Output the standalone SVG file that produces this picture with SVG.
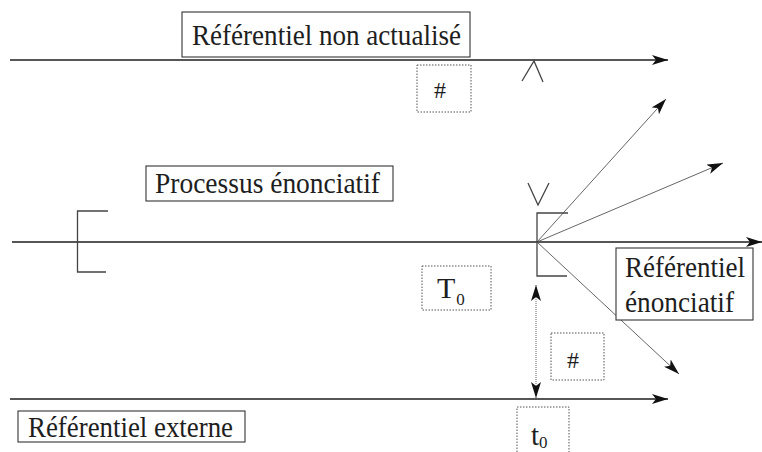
<svg xmlns="http://www.w3.org/2000/svg" width="762" height="452" viewBox="0 0 762 452">
<style>
  text { font-family: 'Liberation Serif', 'Times New Roman', serif; fill: #1e1e1e; }
  .lbl { font-size: 29px; }
  .sym { font-size: 24px; }
  .sub { font-size: 17px; }
  .box { fill: #ffffff; stroke: #333333; stroke-width: 1.1; }
  .dbox { fill: #ffffff; stroke: #555555; stroke-width: 1; stroke-dasharray: 1.5 1.5; }
  .axis { stroke: #1e1e1e; stroke-width: 1.6; fill: none; }
  .ray { stroke: #555555; stroke-width: 0.9; fill: none; }
  .mark { stroke: #444444; stroke-width: 1.3; fill: none; }
</style>
<defs>
  <marker id="ah" viewBox="0 0 16 10" markerWidth="16" markerHeight="10" refX="16" refY="5" orient="auto-start-reverse" markerUnits="userSpaceOnUse">
    <path d="M0,0 L16,5 L0,10 L4,5 Z" fill="#111111"/>
  </marker>
</defs>
<rect width="762" height="452" fill="#ffffff"/>

<g id="connectors">
  <line class="axis" x1="10" y1="60" x2="668" y2="60" marker-end="url(#ah)"/>
  <line class="axis" x1="12" y1="242" x2="762" y2="242" marker-end="url(#ah)"/>
  <line class="axis" x1="10" y1="399" x2="668" y2="399" marker-end="url(#ah)"/>
  <line class="ray" x1="537" y1="242" x2="666" y2="99" marker-end="url(#ah)"/>
  <line class="ray" x1="537" y1="242" x2="723" y2="163" marker-end="url(#ah)"/>
  <line class="ray" x1="537" y1="242" x2="679" y2="374" marker-end="url(#ah)"/>
  <line class="ray" x1="536" y1="285" x2="536" y2="398" stroke-dasharray="1 1" marker-start="url(#ah)" marker-end="url(#ah)"/>
</g>

<g id="marks">
  <path class="mark" d="M108,211 H77.5 V272 H106"/>
  <path class="mark" d="M568,213 H537 V276 H567"/>
  <path class="mark" d="M528,183 L538,205 L549,183"/>
  <path class="mark" d="M522,81 L534,61 L543,82"/>
</g>

<g id="ref-non-actualise">
  <rect class="box" x="182" y="12" width="288" height="45"/>
  <text class="lbl" x="192" y="45" textLength="269" lengthAdjust="spacingAndGlyphs">Référentiel non actualisé</text>
</g>

<g id="diese-haut">
  <rect class="dbox" x="417" y="65" width="54" height="47"/>
  <text class="sym" x="440" y="98" text-anchor="middle">#</text>
</g>

<g id="processus">
  <rect class="box" x="146" y="166" width="247" height="35"/>
  <text class="lbl" x="155" y="193" textLength="225" lengthAdjust="spacingAndGlyphs">Processus énonciatif</text>
</g>

<g id="ref-enonciatif">
  <rect class="box" x="616" y="248" width="137" height="72"/>
  <text class="lbl" x="625" y="277" textLength="120" lengthAdjust="spacingAndGlyphs">Référentiel</text>
  <text class="lbl" x="625" y="312" textLength="109" lengthAdjust="spacingAndGlyphs">énonciatif</text>
</g>

<g id="T0">
  <rect class="dbox" x="422" y="266" width="69" height="44"/>
  <text class="lbl" x="437" y="298" style="font-size:30px">T<tspan class="sub" dx="1" dy="7">0</tspan></text>
</g>

<g id="diese-bas">
  <rect class="dbox" x="551" y="333" width="53" height="47"/>
  <text class="sym" x="573" y="368" text-anchor="middle">#</text>
</g>

<g id="t0">
  <rect class="dbox" x="517" y="407" width="52" height="50"/>
  <text class="lbl" x="531" y="445">t<tspan class="sub" dy="3">0</tspan></text>
</g>

<g id="ref-externe">
  <rect class="box" x="18" y="411" width="227" height="31"/>
  <text class="lbl" x="28" y="437" textLength="205" lengthAdjust="spacingAndGlyphs">Référentiel externe</text>
</g>
</svg>
